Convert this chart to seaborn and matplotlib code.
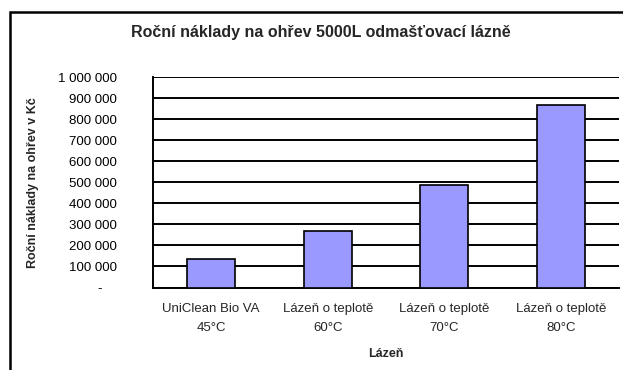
import matplotlib
matplotlib.use("Agg")
import numpy as np
import pandas as pd
import seaborn as sns
from matplotlib import pyplot as plt
from matplotlib.ticker import FuncFormatter, FixedLocator, MultipleLocator
from matplotlib.patches import Rectangle

# Data
categories = ["UniClean Bio VA\n45°C", "Lázeň o teplotě\n60°C",
              "Lázeň o teplotě\n70°C", "Lázeň o teplotě\n80°C"]
costs = [134000, 270000, 487000, 868000]

sns.set_style("white")
plt.rcParams["font.family"] = ["Liberation Sans", "DejaVu Sans"]

df = pd.DataFrame({"Lázeň": categories, "Náklady": costs})

fig = plt.figure(figsize=(6.23, 3.70), dpi=100)
ax = fig.add_axes([153 / 623, 1 - 287.5 / 370, 466 / 623, 210.5 / 370])

sns.barplot(data=df, x="Lázeň", y="Náklady", color="#9999ff", saturation=1,
            edgecolor="black", linewidth=1.2, width=0.41, ax=ax, zorder=3)

ax.set_ylim(0, 1000000)
ax.set_xlim(-0.5, 3.5)
ax.yaxis.set_major_locator(MultipleLocator(100000))
# Excel accounting style: zero shown as a dash set in from the right edge
ax.yaxis.set_major_formatter(FuncFormatter(
    lambda v, p: "-    " if v == 0 else f"{int(v):,}".replace(",", " ")))
ax.yaxis.grid(True, color="black", linewidth=1.4, zorder=0)
ax.set_axisbelow(True)

for s in ["top", "right"]:
    ax.spines[s].set_visible(False)
for s in ["left", "bottom"]:
    ax.spines[s].set_color("black")
    ax.spines[s].set_linewidth(1.4)

ax.tick_params(axis="y", direction="inout", length=6, width=1.2,
               labelsize=9.5, pad=23, colors="black")
ax.tick_params(axis="x", which="major", length=0, labelsize=9.5, pad=11)
ax.xaxis.set_minor_locator(FixedLocator([0.5, 1.5, 2.5, 3.5]))
ax.tick_params(axis="x", which="minor", length=4, width=1.2, direction="out")
for lbl in ax.get_xticklabels():
    lbl.set_linespacing(1.8)

ax.set_xlabel("Lázeň", fontsize=9, fontweight="bold", labelpad=10)
ax.set_ylabel("Roční náklady na ohřev v Kč", fontsize=9, fontweight="bold")
ax.yaxis.set_label_coords(-0.245, 0.5)

fig.text(0.515, 1 - 32 / 370, "Roční náklady na ohřev 5000L odmašťovací lázně",
         ha="center", va="center", fontsize=11.5, fontweight="bold")

# outer chart frame (cut off at right and bottom in the reference)
fig.add_artist(Rectangle((10 / 623, -0.1), 1.2, 1 - 12 / 370 + 0.1,
                         transform=fig.transFigure, fill=False,
                         edgecolor="black", linewidth=1.8, clip_on=False))

fig.savefig("out.png", dpi=100)
